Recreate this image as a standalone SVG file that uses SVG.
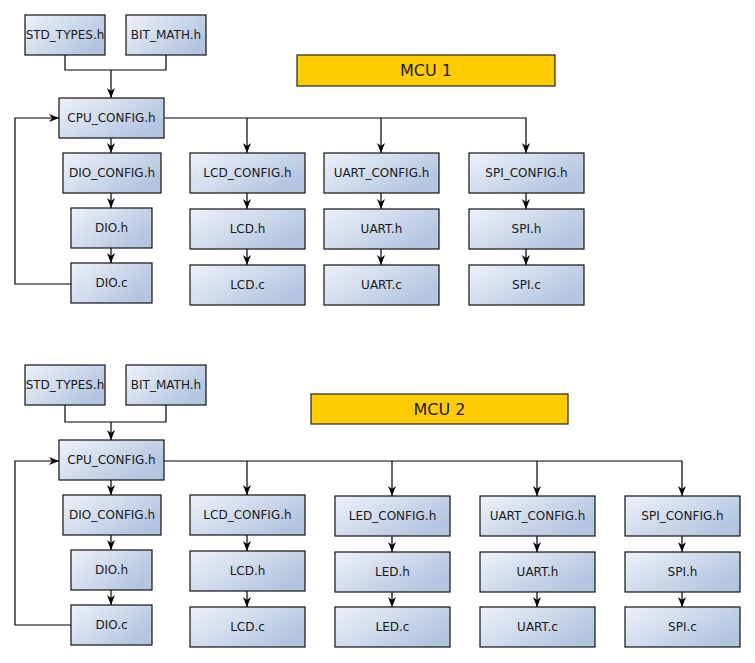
<svg xmlns="http://www.w3.org/2000/svg" width="755" height="663" viewBox="0 0 755 663">
<style>
.n rect{fill:url(#g);stroke:#111;stroke-width:1.2}
.n text{font-family:"DejaVu Sans",sans-serif;font-size:12px;fill:#1a1a1a;text-anchor:middle}
.m rect{fill:#ffcc00;stroke:#222;stroke-width:1.2}
.m text{font-family:"DejaVu Sans",sans-serif;font-size:16px;fill:#1a1a1a;text-anchor:middle}
.c path{fill:none;stroke:#000;stroke-width:1.2}
.a{marker-end:url(#ar)}
</style>
<defs>
<linearGradient id="g" x1="0" y1="0" x2="1" y2="0.6">
<stop offset="0" stop-color="#eef2f9"/>
<stop offset="1" stop-color="#b3c5e0"/>
</linearGradient>
<marker id="ar" markerUnits="userSpaceOnUse" markerWidth="10" markerHeight="10" viewBox="0 0 10 10" refX="10" refY="5" orient="auto">
<path d="M0,1 L10,5 L0,9 L3,5 z" fill="#000"/>
</marker>
</defs>
<rect width="755" height="663" fill="#fff"/>
<g class="c">
<path d="M65,55 V70 H166 V55"/>
<path class="a" d="M111,70 V98"/>
<path class="a" d="M164,118 H526 V153"/>
<path class="a" d="M247,118 V153"/>
<path class="a" d="M381,118 V153"/>
<path class="a" d="M111,138 V153"/>
<path class="a" d="M111,193 V208"/>
<path class="a" d="M111,248 V263"/>
<path class="a" d="M247,193 V209"/>
<path class="a" d="M247,249 V265"/>
<path class="a" d="M381,193 V209"/>
<path class="a" d="M381,249 V265"/>
<path class="a" d="M526,193 V209"/>
<path class="a" d="M526,249 V265"/>
<path class="a" d="M71,284 H15 V118 H59"/>
<path d="M65,405 V422 H166 V405"/>
<path class="a" d="M111,422 V440"/>
<path class="a" d="M164,461 H682 V496"/>
<path class="a" d="M247,461 V495"/>
<path class="a" d="M392,461 V496"/>
<path class="a" d="M537,461 V496"/>
<path class="a" d="M111,480 V495"/>
<path class="a" d="M111,535 V550"/>
<path class="a" d="M111,590 V605"/>
<path class="a" d="M247,535 V551"/>
<path class="a" d="M247,591 V607"/>
<path class="a" d="M392,536 V552"/>
<path class="a" d="M392,592 V607"/>
<path class="a" d="M537,536 V552"/>
<path class="a" d="M537,592 V607"/>
<path class="a" d="M682,536 V552"/>
<path class="a" d="M682,592 V607"/>
<path class="a" d="M71,625 H15 V461 H59"/>
</g>
<g id="std1" class="n"><rect x="25" y="15" width="80" height="40"/><text x="65" y="39">STD_TYPES.h</text></g>
<g id="bit1" class="n"><rect x="126" y="15" width="80" height="40"/><text x="166" y="39">BIT_MATH.h</text></g>
<g id="mcu1" class="m"><rect x="297" y="55" width="258" height="31"/><text x="426" y="76">MCU 1</text></g>
<g id="cpu1" class="n"><rect x="59" y="98" width="105" height="40"/><text x="111.5" y="122">CPU_CONFIG.h</text></g>
<g id="diocfg1" class="n"><rect x="63" y="153" width="98" height="40"/><text x="112" y="177">DIO_CONFIG.h</text></g>
<g id="dioh1" class="n"><rect x="71" y="208" width="81" height="40"/><text x="111.5" y="232">DIO.h</text></g>
<g id="dioc1" class="n"><rect x="71" y="263" width="81" height="40"/><text x="111.5" y="287">DIO.c</text></g>
<g id="lcdcfg1" class="n"><rect x="190" y="153" width="115" height="40"/><text x="247.5" y="177">LCD_CONFIG.h</text></g>
<g id="lcdh1" class="n"><rect x="190" y="209" width="115" height="40"/><text x="247.5" y="233">LCD.h</text></g>
<g id="lcdc1" class="n"><rect x="190" y="265" width="115" height="40"/><text x="247.5" y="289">LCD.c</text></g>
<g id="uartcfg1" class="n"><rect x="324" y="153" width="115" height="40"/><text x="381.5" y="177">UART_CONFIG.h</text></g>
<g id="uarth1" class="n"><rect x="324" y="209" width="115" height="40"/><text x="381.5" y="233">UART.h</text></g>
<g id="uartc1" class="n"><rect x="324" y="265" width="115" height="40"/><text x="381.5" y="289">UART.c</text></g>
<g id="spicfg1" class="n"><rect x="469" y="153" width="115" height="40"/><text x="526.5" y="177">SPI_CONFIG.h</text></g>
<g id="spih1" class="n"><rect x="469" y="209" width="115" height="40"/><text x="526.5" y="233">SPI.h</text></g>
<g id="spic1" class="n"><rect x="469" y="265" width="115" height="40"/><text x="526.5" y="289">SPI.c</text></g>
<g id="std2" class="n"><rect x="25" y="365" width="80" height="40"/><text x="65" y="389">STD_TYPES.h</text></g>
<g id="bit2" class="n"><rect x="126" y="365" width="80" height="40"/><text x="166" y="389">BIT_MATH.h</text></g>
<g id="mcu2" class="m"><rect x="311" y="394" width="257" height="30"/><text x="439.5" y="415">MCU 2</text></g>
<g id="cpu2" class="n"><rect x="59" y="440" width="105" height="40"/><text x="111.5" y="464">CPU_CONFIG.h</text></g>
<g id="diocfg2" class="n"><rect x="63" y="495" width="98" height="40"/><text x="112" y="519">DIO_CONFIG.h</text></g>
<g id="dioh2" class="n"><rect x="71" y="550" width="81" height="40"/><text x="111.5" y="574">DIO.h</text></g>
<g id="dioc2" class="n"><rect x="71" y="605" width="81" height="40"/><text x="111.5" y="629">DIO.c</text></g>
<g id="lcdcfg2" class="n"><rect x="190" y="495" width="115" height="40"/><text x="247.5" y="519">LCD_CONFIG.h</text></g>
<g id="lcdh2" class="n"><rect x="190" y="551" width="115" height="40"/><text x="247.5" y="575">LCD.h</text></g>
<g id="lcdc2" class="n"><rect x="190" y="607" width="115" height="40"/><text x="247.5" y="631">LCD.c</text></g>
<g id="ledcfg2" class="n"><rect x="335" y="496" width="115" height="40"/><text x="392.5" y="520">LED_CONFIG.h</text></g>
<g id="ledh2" class="n"><rect x="335" y="552" width="115" height="40"/><text x="392.5" y="576">LED.h</text></g>
<g id="ledc2" class="n"><rect x="335" y="607" width="115" height="40"/><text x="392.5" y="631">LED.c</text></g>
<g id="uartcfg2" class="n"><rect x="480" y="496" width="115" height="40"/><text x="537.5" y="520">UART_CONFIG.h</text></g>
<g id="uarth2" class="n"><rect x="480" y="552" width="115" height="40"/><text x="537.5" y="576">UART.h</text></g>
<g id="uartc2" class="n"><rect x="480" y="607" width="115" height="40"/><text x="537.5" y="631">UART.c</text></g>
<g id="spicfg2" class="n"><rect x="625" y="496" width="115" height="40"/><text x="682.5" y="520">SPI_CONFIG.h</text></g>
<g id="spih2" class="n"><rect x="625" y="552" width="115" height="40"/><text x="682.5" y="576">SPI.h</text></g>
<g id="spic2" class="n"><rect x="625" y="607" width="115" height="40"/><text x="682.5" y="631">SPI.c</text></g>
</svg>
